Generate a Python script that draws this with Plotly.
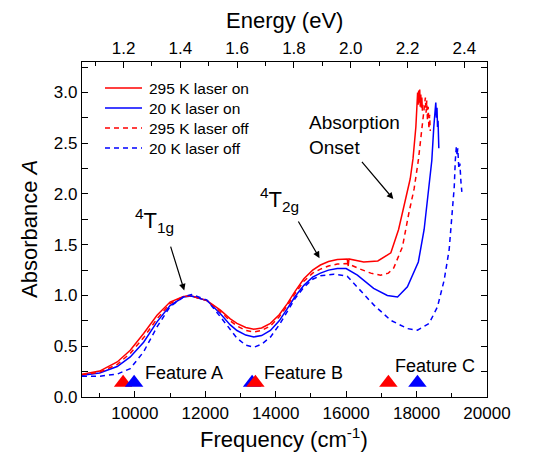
import plotly.graph_objects as go

# ---------------- data ----------------
x_on295 = [8500, 9000, 9500, 9870, 10250, 10630, 11000, 11380, 11600, 11670, 12050, 12430, 12710,
           12900, 13150, 13380, 13600, 13850, 14100, 14330, 14550, 14800, 15050, 15270, 15500,
           15750, 16030, 16060, 16080, 16500, 16900, 17270, 17490, 17700, 17820, 17900, 17980,
           18030, 18045, 18060, 18075, 18090, 18105, 18120, 18135, 18150, 18165, 18180]
y_on295 = [0.225, 0.255, 0.345, 0.46, 0.625, 0.805, 0.935, 0.99, 0.995, 0.99, 0.95, 0.855, 0.77,
           0.725, 0.685, 0.668, 0.68, 0.725, 0.81, 0.92, 1.04, 1.165, 1.25, 1.30, 1.335,
           1.355, 1.36, 1.29, 1.36, 1.33, 1.34, 1.42, 1.65, 1.95, 2.15, 2.35, 2.66,
           3.00, 2.88, 3.02, 2.90, 3.03, 2.86, 2.98, 2.85, 2.95, 2.82, 2.88]

x_on20 = [8500, 9000, 9500, 9870, 10250, 10630, 11000, 11380, 11600, 12050, 12430, 12710,
          12900, 13150, 13380, 13600, 13850, 14100, 14330, 14550, 14800, 15050, 15270, 15500,
          15750, 16000, 16320, 16780, 17170, 17460, 17740, 17900, 18050, 18215, 18330, 18433,
          18489, 18546, 18565, 18580, 18595, 18610, 18632]
y_on20 = [0.215, 0.237, 0.30, 0.395, 0.54, 0.74, 0.90, 0.985, 0.995, 0.95, 0.82, 0.71,
          0.655, 0.61, 0.592, 0.605, 0.655, 0.75, 0.87, 0.99, 1.10, 1.18, 1.22, 1.25,
          1.265, 1.265, 1.20, 1.07, 1.00, 0.985, 1.085, 1.22, 1.33, 1.65, 1.99, 2.33,
          2.66, 2.90, 2.75, 2.85, 2.66, 2.72, 2.45]

x_off295 = [8500, 9000, 9500, 9870, 10250, 10630, 11000, 11380, 11600, 12050, 12430, 12710,
            12900, 13150, 13380, 13600, 13850, 14100, 14330, 14550, 14800, 15050, 15270, 15500,
            15750, 16030, 16400, 16700, 16980, 17200, 17350, 17600, 17780, 17930, 18050, 18160,
            18230, 18250, 18270, 18290, 18310, 18330, 18350, 18370, 18390]
y_off295 = [0.22, 0.245, 0.32, 0.43, 0.585, 0.77, 0.92, 0.99, 0.995, 0.95, 0.84, 0.75,
            0.70, 0.655, 0.64, 0.655, 0.70, 0.79, 0.90, 1.02, 1.14, 1.22, 1.26, 1.29,
            1.31, 1.315, 1.26, 1.22, 1.20, 1.22, 1.27, 1.48, 1.81, 2.05, 2.33, 2.66,
            2.92, 2.95, 2.80, 2.92, 2.72, 2.86, 2.64, 2.78, 2.62]

x_off20 = [8500, 9000, 9500, 9870, 10250, 10630, 11000, 11380, 11610, 12050, 12430, 12710,
           12900, 13150, 13380, 13600, 13850, 14100, 14330, 14550, 14800, 15050, 15270, 15650,
           16030, 16320, 16790, 17270, 17740, 18025, 18355, 18594, 18783, 18925, 19020, 19070,
           19100, 19130, 19150, 19170, 19200, 19230, 19260, 19286]
y_off20 = [0.205, 0.205, 0.225, 0.28, 0.445, 0.69, 0.89, 0.985, 1.01, 0.955, 0.79, 0.66,
           0.58, 0.51, 0.49, 0.52, 0.59, 0.71, 0.85, 0.97, 1.08, 1.16, 1.195, 1.21,
           1.19, 1.085, 0.905, 0.755, 0.674, 0.658, 0.724, 0.888, 1.15, 1.45, 1.81, 2.07,
           2.33, 2.47, 2.38, 2.45, 2.25, 2.30, 2.12, 2.02]

series_names = ["295 K laser on", "20 K laser on", "295 K laser off", "20 K laser off"]

# feature markers (triangles)
feat_red_A_x = [9667]
feat_blue_x = [9980, 13330, 18025]
feat_red_BC_x = [13424, 17200]
feat_y = 0.14

feature_labels = ["Feature A", "Feature B", "Feature C"]
feature_label_x = [10236, 13623, 17323]
feature_label_y = [0.234, 0.234, 0.303]

x_range = [8500, 20000]
y_range = [0, 3.3]
EV_PER_CM = 1 / 8065.54
energy_ticks = [1.2, 1.4, 1.6, 1.8, 2.0, 2.2, 2.4]

RED = "#ff0000"
BLUE = "#0000ff"
FONT = "Liberation Sans, Arial, sans-serif"

# plot area in pixels (for placing legend/titles)
L, R, T, B = 82, 487, 62, 397
W, H = R - L, B - T


def px2paper_x(px):
    return (px - L) / W


def py2paper_y(py):
    return (B - py) / H


fig = go.Figure()
styles = [dict(color=RED, width=1.5), dict(color=BLUE, width=1.5),
          dict(color=RED, width=1.5, dash="5px,4px"), dict(color=BLUE, width=1.5, dash="5px,4px")]
for xs, ys, nm, st in zip([x_on295, x_on20, x_off295, x_off20],
                          [y_on295, y_on20, y_off295, y_off20], series_names, styles):
    fig.add_trace(go.Scatter(x=xs, y=ys, mode="lines", name=nm, line=st, showlegend=False))

tri = dict(symbol="triangle-up", size=16, line=dict(width=0))
fig.add_trace(go.Scatter(x=feat_red_A_x, y=[feat_y] * len(feat_red_A_x), mode="markers",
                         marker=dict(color=RED, **tri), showlegend=False, hoverinfo="skip"))
fig.add_trace(go.Scatter(x=feat_blue_x, y=[feat_y] * len(feat_blue_x), mode="markers",
                         marker=dict(color=BLUE, **tri), showlegend=False, hoverinfo="skip"))
fig.add_trace(go.Scatter(x=feat_red_BC_x, y=[feat_y] * len(feat_red_BC_x), mode="markers",
                         marker=dict(color=RED, **tri), showlegend=False, hoverinfo="skip"))

# invisible trace to carry the top energy axis
fig.add_trace(go.Scatter(x=[x_range[0] * EV_PER_CM, x_range[1] * EV_PER_CM], y=[None, None],
                         xaxis="x2", yaxis="y", mode="lines", showlegend=False, hoverinfo="skip"))

axis_common = dict(showline=True, linecolor="black", linewidth=1.3, ticks="inside",
                   tickcolor="black", tickwidth=1.2, ticklen=6, showgrid=False, zeroline=False,
                   automargin=False,
                   tickfont=dict(size=17, color="black", family=FONT))

fig.update_layout(
    width=536, height=455,
    margin=dict(l=L, r=536 - R, t=T, b=455 - B),
    paper_bgcolor="white", plot_bgcolor="white",
    font=dict(family=FONT, color="black", size=16),
    xaxis=dict(range=x_range, tickmode="array", tickvals=[10000, 12000, 14000, 16000, 18000, 20000],
               ticktext=["10000", "12000", "14000", "16000", "18000", "20000"],
               minor=dict(dtick=1000, tick0=0, ticks="inside", ticklen=4, tickcolor="black", tickwidth=1.2),
               **axis_common),
    xaxis2=dict(range=[x_range[0] * EV_PER_CM, x_range[1] * EV_PER_CM], overlaying="x", side="top",
                anchor="y", tickmode="array", tickvals=energy_ticks,
                ticktext=["%.1f" % v for v in energy_ticks],
                minor=dict(dtick=0.1, tick0=0, ticks="inside", ticklen=4, tickcolor="black", tickwidth=1.2),
                **axis_common),
    yaxis=dict(range=y_range, tickmode="array", tickvals=[0, 0.5, 1.0, 1.5, 2.0, 2.5, 3.0],
               ticktext=["0.0", "0.5", "1.0", "1.5", "2.0", "2.5", "3.0"],
               minor=dict(dtick=0.25, tick0=0, ticks="inside", ticklen=4, tickcolor="black", tickwidth=1.2),
               mirror="allticks",
               **axis_common),
    showlegend=False,
    hovermode=False,
)

annotations = []
shapes = []

# axis titles
annotations.append(dict(x=px2paper_x(284), y=py2paper_y(20), xref="paper", yref="paper",
                        xanchor="center", yanchor="middle", text="Energy (eV)", showarrow=False,
                        font=dict(size=22, family=FONT, color="black")))
annotations.append(dict(x=px2paper_x(284), y=py2paper_y(438), xref="paper", yref="paper",
                        xanchor="center", yanchor="middle", text="Frequency (cm<sup>-1</sup>)",
                        showarrow=False, font=dict(size=22, family=FONT, color="black")))
annotations.append(dict(x=px2paper_x(29), y=py2paper_y(229), xref="paper", yref="paper",
                        xanchor="center", yanchor="middle", text="Absorbance <i>A</i>", textangle=-90,
                        showarrow=False, font=dict(size=22, family=FONT, color="black")))

# legend (manual, to match the reference spacing)
legend_rows_py = [88, 108, 128, 148]
for nm, st, ry in zip(series_names, styles, legend_rows_py):
    shapes.append(dict(type="line", xref="paper", yref="paper",
                       x0=px2paper_x(105), x1=px2paper_x(142), y0=py2paper_y(ry), y1=py2paper_y(ry),
                       line=dict(color=st["color"], width=1.5, dash=st.get("dash", "solid"))))
    annotations.append(dict(x=px2paper_x(147), y=py2paper_y(ry), xref="paper", yref="paper",
                            xanchor="left", yanchor="middle", text=nm, showarrow=False,
                            font=dict(size=15.5, family=FONT, color="black")))

# arrows (tail -> head in data coordinates)
arrows = [((11004, 1.496), (11403, 1.05)),
          ((14619, 1.743), (15245, 1.368)),
          ((16412, 2.33), (17340, 1.95))]
for (tx, ty), (hx, hy) in arrows:
    annotations.append(dict(x=hx, y=hy, ax=tx, ay=ty, xref="x", yref="y", axref="x", ayref="y",
                            text="", showarrow=True, arrowhead=2, arrowsize=1.1, arrowwidth=1.2,
                            arrowcolor="black"))
annotations.append(dict(x=9951, y=1.74, xref="x", yref="y", xanchor="left", yanchor="middle",
                        text="<sup>4</sup>T<sub>1g</sub>", showarrow=False,
                        font=dict(size=22, family=FONT, color="black")))
annotations.append(dict(x=13509, y=1.95, xref="x", yref="y", xanchor="left", yanchor="middle",
                        text="<sup>4</sup>T<sub>2g</sub>", showarrow=False,
                        font=dict(size=22, family=FONT, color="black")))
annotations.append(dict(x=14875, y=2.58, xref="x", yref="y", xanchor="left", yanchor="middle",
                        text="Absorption<br>Onset", align="left", showarrow=False,
                        font=dict(size=19, family=FONT, color="black")))
for lbl, lx, ly in zip(feature_labels, feature_label_x, feature_label_y):
    annotations.append(dict(x=lx, y=ly, xref="x", yref="y", xanchor="left", yanchor="middle",
                            text=lbl, showarrow=False, font=dict(size=18, family=FONT, color="black")))
fig.update_layout(annotations=annotations, shapes=shapes)

# remove the default page margin so the figure sits at the window's top-left corner
fig.write_html("out.html", config={"displayModeBar": False},
               post_script="document.body.style.margin='0';document.body.style.padding='0';")
